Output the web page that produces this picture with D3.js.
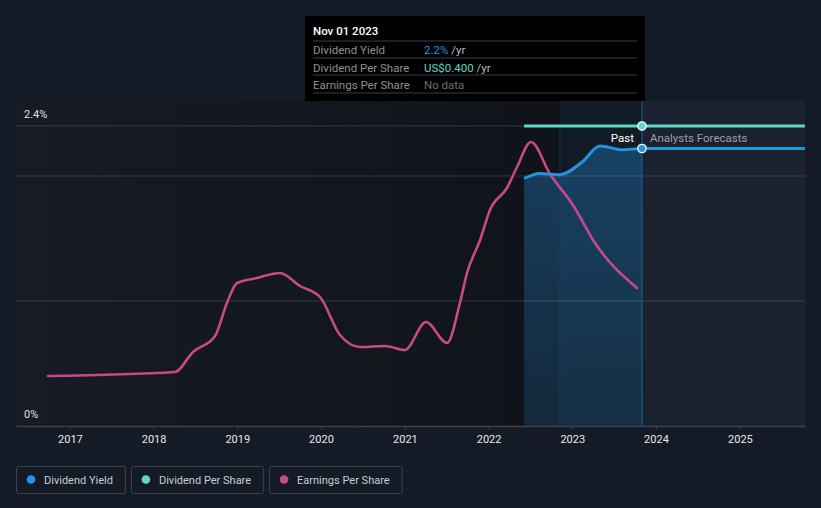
<!DOCTYPE html>
<html>
<head>
<meta charset="utf-8">
<script src="https://cdn.jsdelivr.net/npm/d3@7"></script>
<style>
  html, body { margin: 0; padding: 0; background: #151b26; }
  svg { display: block; font-family: Roboto, "Noto Sans", sans-serif; }
</style>
</head>
<body>
<svg id="chart" width="821" height="508"></svg>
<script>
// ---- data ----
const yearTicks = ["2017","2018","2019","2020","2021","2022","2023","2024","2025"];
const yieldTickValues = [0, 1, 2, 2.4];
const yieldTickLabels = {0: "0%", 2.4: "2.4%"};

const yieldDates  = ["2022-06-05","2022-08-13","2022-11-08","2023-02-12","2023-05-02","2023-08-06","2023-11-01","2025-10-12"];
const yieldValues = [1.98, 2.02, 2.01, 2.11, 2.24, 2.21, 2.22, 2.22];

const dpsDates  = ["2022-06-05","2023-11-01","2025-10-12"];
const dpsValues = [0.4, 0.4, 0.4];

const epsDates = ["2016-09-28","2018-04-04","2018-06-22","2018-09-26","2018-11-17","2018-12-31",
  "2019-03-28","2019-07-06","2019-10-02","2019-12-28","2020-03-24","2020-06-19","2020-10-06",
  "2021-01-01","2021-04-03","2021-07-04","2021-08-29","2021-09-29","2021-11-25","2022-01-07",
  "2022-03-22","2022-05-05","2022-07-05","2022-09-26","2023-01-04","2023-04-10","2023-10-10"];
const epsValues = [0.50, 0.54, 0.74, 0.90, 1.23, 1.43,
  1.48, 1.53, 1.40, 1.29, 0.91, 0.79, 0.80,
  0.76, 1.04, 0.83, 1.23, 1.53, 1.86, 2.16,
  2.38, 2.59, 2.84, 2.52, 2.21, 1.83, 1.38];

const tooltipDate = "2023-11-01";
const pastStart = "2022-06-05";
const bandStart = "2022-11-08";
const domainStart = "2016-05-11", domainEnd = "2025-10-12";

// ---- setup ----
const parse = d3.timeParse("%Y-%m-%d");
const svg = d3.select("#chart");
const mLeft = 16, mRight = 805, mTop = 126, mBottom = 426;

const x = d3.scaleTime().domain([parse(domainStart), parse(domainEnd)]).range([mLeft, mRight]);
const yY = d3.scaleLinear().domain([0, 2.4]).range([mBottom, mTop]);
const yD = d3.scaleLinear().domain([0, 0.4]).range([mBottom, mTop]);
const yE = d3.scaleLinear().domain([0, 3]).range([mBottom, mTop]);

const yieldData = yieldDates.map((d, i) => ({d: parse(d), v: yieldValues[i]}));
const dpsData = dpsDates.map((d, i) => ({d: parse(d), v: dpsValues[i]}));
const epsData = epsDates.map((d, i) => ({d: parse(d), v: epsValues[i]}));

const defs = svg.append("defs");
const g1 = defs.append("linearGradient").attr("id", "bgGrad").attr("x1", 0).attr("x2", 1).attr("y1", 0).attr("y2", 0);
g1.append("stop").attr("offset", 0).attr("stop-color", "#161b25");
g1.append("stop").attr("offset", 1).attr("stop-color", "#10141a");
const g2 = defs.append("linearGradient").attr("id", "areaGrad").attr("x1", 0).attr("x2", 0).attr("y1", 0).attr("y2", 1);
g2.append("stop").attr("offset", 0).attr("stop-color", "#1d5f93").attr("stop-opacity", 0.55);
g2.append("stop").attr("offset", 1).attr("stop-color", "#1d5f93").attr("stop-opacity", 0.28);

const tD = parse(tooltipDate);
const tX = x(tD);
const pX = x(parse(pastStart));
const bX = x(parse(bandStart));

// background plot regions
svg.append("rect").attr("x", mLeft).attr("y", 101).attr("width", pX - mLeft).attr("height", mBottom - 101).attr("fill", "url(#bgGrad)");
svg.append("rect").attr("x", pX).attr("y", 101).attr("width", tX - pX).attr("height", mBottom - 101).attr("fill", "#10141a");
svg.append("rect").attr("x", tX).attr("y", 101).attr("width", mRight - tX).attr("height", mBottom - 101).attr("fill", "#19222e");
svg.append("rect").attr("x", bX).attr("y", 101).attr("width", tX - bX).attr("height", mBottom - 101).attr("fill", "#1e5a8c").attr("fill-opacity", 0.12);

// area under past yield
const pastYield = yieldData.filter(d => d.d <= tD);
svg.append("path").datum(pastYield)
  .attr("d", d3.area().x(d => x(d.d)).y0(mBottom).y1(d => yY(d.v)).curve(d3.curveMonotoneX))
  .attr("fill", "url(#areaGrad)");
svg.append("line").attr("x1", bX).attr("x2", bX).attr("y1", 126).attr("y2", mBottom).attr("stroke", "#1b4d73").attr("stroke-width", 1).attr("stroke-opacity", 0.5);

// gridlines
svg.append("g").selectAll("line").data(yieldTickValues.filter(v => v > 0)).join("line")
  .attr("x1", mLeft).attr("x2", mRight).attr("y1", d => yY(d)).attr("y2", d => yY(d))
  .attr("stroke", "#ffffff").attr("stroke-opacity", 0.14).attr("stroke-width", 1);

// x axis
const xAxis = d3.axisBottom(x).tickValues(yearTicks.map(y => parse(y + "-01-01"))).tickFormat(d3.timeFormat("%Y")).tickSize(4).tickSizeOuter(0);
const ax = svg.append("g").attr("transform", `translate(0,${mBottom})`).call(xAxis);
ax.select(".domain").attr("stroke", "#3b4049").attr("stroke-width", 1.5);
ax.selectAll(".tick line").attr("stroke", "#3b4049");
ax.selectAll(".tick text").attr("fill", "#e8e8e8").attr("font-size", 11).attr("dy", "0.95em")
  .attr("font-family", "Roboto, sans-serif");

// y labels
svg.append("g").selectAll("text").data(yieldTickValues.filter(v => yieldTickLabels[v])).join("text")
  .attr("x", 24).attr("y", d => yY(d) - 8).attr("fill", "#e0e0e0").attr("font-size", 11)
  .text(d => yieldTickLabels[d]);

// tooltip vertical line
svg.append("line").attr("x1", tX).attr("x2", tX).attr("y1", 101).attr("y2", mBottom).attr("stroke", "#1f6496").attr("stroke-width", 1);

// lines
svg.append("path").datum(epsData)
  .attr("d", d3.line().x(d => x(d.d)).y(d => yE(d.v)).curve(d3.curveMonotoneX))
  .attr("fill", "none").attr("stroke", "#c8498b").attr("stroke-width", 2.6).attr("stroke-linecap", "round");
svg.append("path").datum(dpsData)
  .attr("d", d3.line().x(d => x(d.d)).y(d => yD(d.v)))
  .attr("fill", "none").attr("stroke", "#5fd8ca").attr("stroke-width", 3);
svg.append("path").datum(yieldData)
  .attr("d", d3.line().x(d => x(d.d)).y(d => yY(d.v)).curve(d3.curveMonotoneX))
  .attr("fill", "none").attr("stroke", "#2394df").attr("stroke-width", 3);

// Past / Forecast labels
svg.append("text").attr("x", tX - 8).attr("y", 142).attr("text-anchor", "end").attr("fill", "#ffffff").attr("font-size", 11.5).text("Past");
svg.append("text").attr("x", tX + 8).attr("y", 142).attr("fill", "#9aa0a8").attr("font-size", 11.5).text("Analysts Forecasts");

// markers
svg.append("circle").attr("cx", tX).attr("cy", yD(dpsData.find(d => +d.d === +tD).v)).attr("r", 4.2)
  .attr("fill", "#5fd8ca").attr("stroke", "#ffffff").attr("stroke-width", 1.2);
svg.append("circle").attr("cx", tX).attr("cy", yY(yieldData.find(d => +d.d === +tD).v)).attr("r", 4.2)
  .attr("fill", "#2394df").attr("stroke", "#ffffff").attr("stroke-width", 1.2);

// tooltip box
const tip = svg.append("g");
tip.append("rect").attr("x", 305).attr("y", 16).attr("width", 340).attr("height", 85).attr("fill", "#000000");
tip.append("text").attr("x", 313).attr("y", 35).attr("fill", "#ffffff").attr("font-size", 11.5).attr("font-weight", 500)
  .text(d3.timeFormat("%b %d %Y")(tD));
const rows = [
  {label: "Dividend Yield", value: d3.format(".1f")(yieldData.find(d => +d.d === +tD).v) + "%", color: "#2394df", unit: " /yr"},
  {label: "Dividend Per Share", value: "US$" + d3.format(".3f")(dpsData.find(d => +d.d === +tD).v), color: "#5fd8ca", unit: " /yr"},
  {label: "Earnings Per Share", value: "No data", color: "#6b6f75", unit: ""}
];
[41, 58, 75, 93].forEach(yv => tip.append("line").attr("x1", 313).attr("x2", 637).attr("y1", yv).attr("y2", yv).attr("stroke", "#3a3d42").attr("stroke-width", 1));
rows.forEach((r, i) => {
  const yv = 54 + i * 17.5;
  tip.append("text").attr("x", 313).attr("y", yv).attr("fill", "#8d9096").attr("font-size", 11.5).text(r.label);
  const t = tip.append("text").attr("x", 424).attr("y", yv).attr("font-size", 11.5);
  t.append("tspan").attr("fill", r.color).text(r.value);
  t.append("tspan").attr("fill", "#b8bbc0").text(r.unit);
});

// legend
const legendItems = [
  {name: "Dividend Yield", color: "#2394df"},
  {name: "Dividend Per Share", color: "#5fd8ca"},
  {name: "Earnings Per Share", color: "#c8498b"}
];
let lx = 16;
legendItems.forEach(it => {
  const g = svg.append("g");
  const txt = g.append("text").attr("x", lx + 28).attr("y", 483.5).attr("fill", "#c9ccd1").attr("font-size", 11).text(it.name);
  const w = txt.node().getComputedTextLength() + 40;
  g.insert("rect", "text").attr("x", lx + 0.5).attr("y", 466.5).attr("width", w).attr("height", 27).attr("rx", 2)
    .attr("fill", "none").attr("stroke", "#3d424b").attr("stroke-width", 1);
  g.append("circle").attr("cx", lx + 15).attr("cy", 479.5).attr("r", 4.3).attr("fill", it.color);
  lx += w + 6;
});
</script>
</body>
</html>
